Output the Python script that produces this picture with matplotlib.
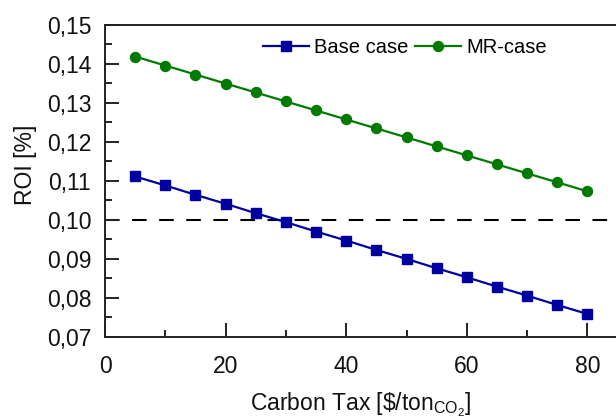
import matplotlib
matplotlib.use("Agg")
import matplotlib.pyplot as plt
from matplotlib.ticker import FuncFormatter, MultipleLocator

plt.rcParams['font.family'] = ['Liberation Sans', 'DejaVu Sans']
plt.rcParams['mathtext.fontset'] = 'custom'
plt.rcParams['mathtext.rm'] = 'Liberation Sans'
plt.rcParams['mathtext.it'] = 'Liberation Sans:italic'

# Carbon tax levels [$/ton CO2]
carbon_tax = [5, 10, 15, 20, 25, 30, 35, 40, 45, 50, 55, 60, 65, 70, 75, 80]

# Return on investment for both cases
roi_base = [0.1111, 0.1088, 0.1064, 0.1041, 0.1017, 0.0994, 0.0970, 0.0947,
            0.0923, 0.0900, 0.0876, 0.0853, 0.0829, 0.0806, 0.0782, 0.0759]
roi_mr = [0.1418, 0.1395, 0.1372, 0.1349, 0.1326, 0.1303, 0.1280, 0.1257,
          0.1234, 0.1211, 0.1188, 0.1165, 0.1142, 0.1119, 0.1096, 0.1073]

threshold = 0.10

fig = plt.figure(figsize=(6.16, 4.2), dpi=100)
ax = fig.add_axes([0.1705, 0.1976, 0.832, 0.744])

blue = '#0000a0'
green = '#007a00'

ax.axhline(threshold, color='black', lw=1.5, linestyle=(0, (7, 6)), zorder=1)
ax.plot(carbon_tax, roi_base, color=blue, lw=1.6, marker='s', markersize=6.5,
        label='Base case', zorder=3)
ax.plot(carbon_tax, roi_mr, color=green, lw=1.6, marker='o', markersize=7.2,
        label='MR-case', zorder=3)

ax.set_xlim(0, 85)
ax.set_ylim(0.07, 0.15)

ax.xaxis.set_major_locator(MultipleLocator(20))
ax.xaxis.set_minor_locator(MultipleLocator(10))
ax.yaxis.set_major_locator(MultipleLocator(0.01))
ax.yaxis.set_minor_locator(MultipleLocator(0.005))
ax.yaxis.set_major_formatter(FuncFormatter(lambda v, p: f"{v:.2f}".replace('.', ',')))

for side in ('left', 'bottom', 'top'):
    ax.spines[side].set_linewidth(1.4)
    ax.spines[side].set_color('#222222')
ax.spines['right'].set_visible(False)

ax.tick_params(which='both', direction='in', top=False, right=False,
               width=1.4, color='#222222', labelcolor='#111111')
ax.tick_params(which='major', length=10, labelsize=16.5)
ax.tick_params(axis='x', which='major', pad=13)
ax.tick_params(axis='y', which='major', pad=10)
ax.tick_params(which='minor', length=5)

ax.set_ylabel('ROI [%]', fontsize=16.5, color='#111111')
ax.yaxis.set_label_coords(-0.132, 0.55)
ax.set_xlabel(r'Carbon Tax [\$/ton$_{\mathrm{CO_2}}$]', fontsize=16.5, color='#111111')
ax.xaxis.set_label_coords(0.5, -0.171)

ax.legend(loc='upper center', bbox_to_anchor=(0.585, 0.995), ncol=2, frameon=False,
          fontsize=14.5, handlelength=2.3, handletextpad=0.25, columnspacing=0.3,
          borderaxespad=0.2)

fig.savefig('out.png', dpi=100)
